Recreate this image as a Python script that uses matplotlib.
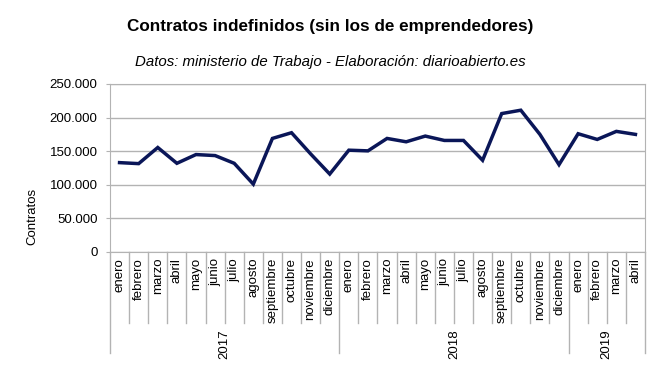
import matplotlib
matplotlib.use("Agg")
import matplotlib.pyplot as plt
import matplotlib.transforms as mtransforms
from matplotlib.ticker import FuncFormatter, MultipleLocator

plt.rcParams['font.family'] = ['Liberation Sans', 'DejaVu Sans']

# datos
meses = ['enero', 'febrero', 'marzo', 'abril', 'mayo', 'junio', 'julio',
         'agosto', 'septiembre', 'octubre', 'noviembre', 'diciembre']
anios = ['2017', '2018', '2019']
meses_por_anio = [12, 12, 4]
contratos = [133000, 131500, 155500, 132000, 145000, 143500, 132000, 101000,
             169000, 177500, 146000, 116000,
             151500, 150500, 169000, 164000, 172500, 166000, 166000, 136500,
             206000, 211000, 175000, 130000,
             176000, 167500, 179500, 175000]

etiquetas = []
for n in meses_por_anio:
    etiquetas += meses[:n]

W, H = 660, 371
fig = plt.figure(figsize=(W / 100, H / 100), dpi=100)
ax = fig.add_axes([110 / W, 1 - 252 / H, 535 / W, 168 / H])

gris = '#b3b3b3'
x = list(range(len(contratos)))
ax.plot(x, contratos, color='#0a1658', linewidth=2.5, solid_joinstyle='miter')

ax.set_xlim(-0.5, len(contratos) - 0.5)
ax.set_ylim(0, 250000)
ax.yaxis.set_major_locator(MultipleLocator(50000))
ax.yaxis.set_major_formatter(FuncFormatter(lambda v, p: f"{int(v):,}".replace(',', '.')))
ax.grid(axis='y', color=gris, linewidth=1)
ax.set_axisbelow(True)
for s in ax.spines.values():
    s.set_color(gris)
ax.tick_params(axis='y', length=3, color=gris, labelsize=9.5, pad=6)
ax.set_xticks([])

# ejes de categorias: separadores y etiquetas
trans = mtransforms.blended_transform_factory(ax.transData, ax.transAxes)
limites = [-0.5]
acum = -0.5
for n in meses_por_anio:
    acum += n
    limites.append(acum)
for i in range(len(contratos) + 1):
    xs = i - 0.5
    bajo = -0.6 if xs in limites else -0.423
    ax.plot([xs, xs], [0, bajo], color=gris, linewidth=1, transform=trans, clip_on=False)

for i, et in enumerate(etiquetas):
    ax.text(i, -0.035, et, rotation=90, ha='center', va='top', fontsize=9.5, transform=trans)

inicio = 0
for anio, n in zip(anios, meses_por_anio):
    ax.text(inicio + (n - 1) / 2, -0.46, anio, rotation=90, ha='center', va='top',
            fontsize=9.5, transform=trans)
    inicio += n

fig.text(32 / W, 1 - 216 / H, 'Contratos', rotation=90, ha='center', va='center', fontsize=9.5)
fig.text(330 / W, 1 - 27 / H, 'Contratos indefinidos (sin los de emprendedores)',
         ha='center', va='center', fontsize=12.3, fontweight='bold')
fig.text(330 / W, 1 - 62 / H, 'Datos: ministerio de Trabajo - Elaboración: diarioabierto.es',
         ha='center', va='center', fontsize=10.8, style='italic')

fig.savefig('out.png', dpi=100)
